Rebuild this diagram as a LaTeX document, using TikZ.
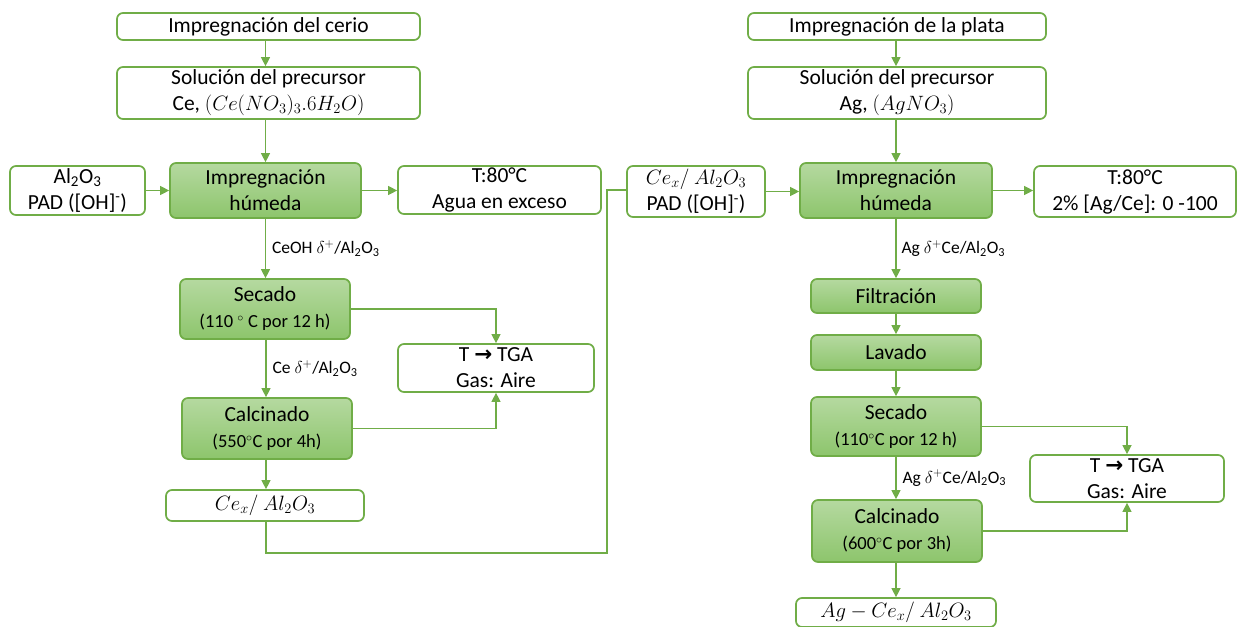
\documentclass[tikz,border=0pt]{standalone}
\usepackage{fontspec}
\setmainfont{Carlito}
\newfontfamily\dejavu{DejaVu Sans}
\usetikzlibrary{arrows.meta,calc}
\definecolor{gb}{HTML}{70AD47}
\definecolor{gtop}{HTML}{B5D9A0}
\definecolor{gbot}{HTML}{8DC56C}
\newcommand{\mysub}[1]{\textsubscript{#1}}
\newcommand{\mysup}[1]{\textsuperscript{#1}}
\newcommand{\smallline}[1]{{\fontsize{18.5}{22}\selectfont #1}}
\newcommand{\tarrow}{{\dejavu\bfseries →}}
\begin{document}
\begin{tikzpicture}[x=1pt,y=-1pt,
 box/.style={draw=gb, line width=1.7pt, rounded corners=6pt, fill=white, align=center, inner sep=0pt, font=\fontsize{21.5}{26}\selectfont},
 fbox/.style={box, top color=gtop, bottom color=gbot},
 arr/.style={draw=gb, line width=1.2pt, -{Triangle[width=9pt,length=9pt]}},
 ln/.style={draw=gb, line width=1.2pt},
 lbl/.style={font=\fontsize{17.5}{20}\selectfont, anchor=west, inner sep=0pt}]
\useasboundingbox (0,0) rectangle (1238,626);
% ---------------- left column
\node[box, minimum width=303pt, minimum height=27pt] (t1) at (268.5,26.5) {Impregnación\ del cerio};
\node[box, minimum width=303pt, minimum height=52pt] (s1) at (268.5,93) {Solución del precursor\\Ce, $(Ce(NO_3)_3.6H_2O)$};
\node[box, minimum width=135pt, minimum height=49pt] (a1) at (77.5,190.5) {Al\mysub{2}O\mysub{3}\\PAD ([OH]\mysup{-})};
\node[fbox, minimum width=191pt, minimum height=55pt] (ih1) at (265.5,190.5) {Impregnación\\húmeda};
\node[box, minimum width=203pt, minimum height=48pt] (c1) at (499.5,190) {T:80°C\\Agua en exceso};
\node[fbox, minimum width=170pt, minimum height=60pt] (sec1) at (265,309) {Secado\\\smallline{(110 ${}^\circ$ C por 12 h)}};
\node[box, minimum width=196pt, minimum height=48pt] (tga1) at (496,368) {T \tarrow\ TGA\\Gas: Aire};
\node[fbox, minimum width=170pt, minimum height=61pt] (cal1) at (267,428.5) {Calcinado\\\smallline{(550${}^\circ$C por 4h)}};
\node[box, minimum width=198pt, minimum height=31pt] (cex1) at (265,505.5) {$Ce_x/\ Al_2O_3$};
% ---------------- right column
\node[box, minimum width=298pt, minimum height=27pt] (t2) at (897,26.5) {Impregnación\ de la plata};
\node[box, minimum width=298pt, minimum height=52pt] (s2) at (897,93) {Solución del precursor\\Ag, $(AgNO_3)$};
\node[box, minimum width=138pt, minimum height=51pt] (a2) at (696,191.5) {$Ce_x/\ Al_2O_3$\\PAD ([OH]\mysup{-})};
\node[fbox, minimum width=192pt, minimum height=55pt] (ih2) at (896,190.5) {Impregnación\\húmeda};
\node[box, minimum width=202pt, minimum height=51pt] (c2) at (1135,191.5) {T:80°C\\2\% [Ag/Ce]: 0 -100};
\node[fbox, minimum width=170pt, minimum height=34pt] (fil) at (896,296) {Filtración};
\node[fbox, minimum width=170pt, minimum height=35pt] (lav) at (896,352.5) {Lavado};
\node[fbox, minimum width=170pt, minimum height=59pt] (sec2) at (896,426.5) {Secado\\\smallline{(110${}^\circ$C por 12 h)}};
\node[box, minimum width=194pt, minimum height=47pt] (tga2) at (1127,478.5) {T \tarrow\ TGA\\Gas: Aire};
\node[fbox, minimum width=170pt, minimum height=62pt] (cal2) at (897,531) {Calcinado\\\smallline{(600${}^\circ$C por 3h)}};
\node[box, minimum width=200pt, minimum height=29pt] (out2) at (896,612.5) {$Ag-Ce_x/\ Al_2O_3$};
% ---------------- left connectors
\draw[arr] (t1.south -| ih1.north) -- (s1.north -| ih1.north);
\draw[arr] (s1.south -| ih1.north) -- (ih1.north);
\draw[arr] (a1.east) -- (ih1.west |- a1.east);
\draw[arr] (ih1.east) -- (c1.west |- ih1.east);
\draw[arr] (ih1.south) -- (sec1.north -| ih1.south) node[lbl, pos=0.5, xshift=6pt] {CeOH $\delta^{+}$/Al\mysub{2}O\mysub{3}};
\draw[arr] (sec1.south -| 266,0) -- (cal1.north -| 266,0) node[lbl, pos=0.5, xshift=6pt] {Ce $\delta^{+}$/Al\mysub{2}O\mysub{3}};
\draw[arr] (cal1.south -| 266,0) -- (cex1.north -| 266,0);
\draw[arr] (sec1.east) -| (tga1.north);
\draw[arr] (cal1.east) -| (tga1.south);
\coordinate (k1) at (266,553);
\coordinate (k2) at (607,553);
\coordinate (k3) at (607,190);
\draw[ln] (cex1.south -| k1) -- (k1) -- (k2) -- (k3) -- (a2.west |- k3);
% ---------------- right connectors
\draw[arr] (t2.south -| ih2.north) -- (s2.north -| ih2.north);
\draw[arr] (s2.south -| ih2.north) -- (ih2.north);
\draw[arr] (a2.east) -- (ih2.west |- a2.east);
\draw[arr] (ih2.east) -- (c2.west |- ih2.east);
\draw[arr] (ih2.south) -- (fil.north -| ih2.south) node[lbl, pos=0.5, xshift=5pt] {Ag $\delta^{+}$Ce/Al\mysub{2}O\mysub{3}};
\draw[arr] (fil.south) -- (lav.north);
\draw[arr] (lav.south) -- (sec2.north);
\draw[arr] (sec2.south) -- (cal2.north -| sec2.south) node[lbl, pos=0.5, xshift=6pt] {Ag $\delta^{+}$Ce/Al\mysub{2}O\mysub{3}};
\draw[arr] (cal2.south -| sec2.south) -- (out2.north -| sec2.south);
\draw[arr] (sec2.east) -| (tga2.north);
\draw[arr] (cal2.east) -| (tga2.south);
\end{tikzpicture}
\end{document}
